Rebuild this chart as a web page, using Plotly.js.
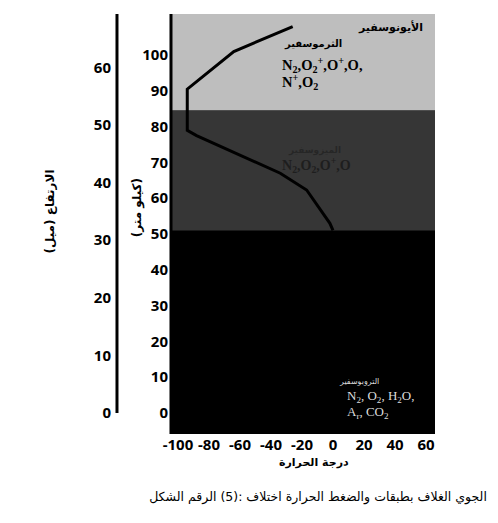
<!DOCTYPE html>
<html>
<head>
<meta charset="utf-8">
<script src="https://cdn.plot.ly/plotly-3.0.1.min.js"></script>
<style>
html,body{margin:0;padding:0;background:#fff;}
#wrap{position:relative;width:498px;height:523px;}
.capword{position:absolute;top:488px;font-family:'DejaVu Sans',sans-serif;font-size:12.5px;color:#000;
  white-space:nowrap;line-height:18px;}
</style>
</head>
<body>
<div id="wrap">
<div id="chart" style="width:498px;height:523px;"></div>
</div>
<script>
// Temperature profile (°C) vs altitude (km)
const temperature = [-26, -64, -94, -94, -88, -34, -17, -2, 0];
const altitudeKm  = [108, 101, 90.5, 79, 77.5, 67, 62.3, 53, 51];

// Layer boundaries (km): troposphere+stratosphere / mesosphere / thermosphere
const layerBottom = [-5.9, 51, 84.6];
const layerTop    = [51, 84.6, 111.5];
const layerColor  = ['#000000', '#363636', '#bebebe'];

// Axes ticks
const kmTicks = [0, 10, 20, 30, 40, 50, 60, 70, 80, 90, 100];
const mileTicks = [0, 10, 20, 30, 40, 50, 60];
const xTickVals = [-100, -80, -60, -40, -20, 0, 20, 40, 60];
const xTickText = ['-100', '-80', '-60', '-40', '-20', '0', '20', '40', '60'];

const captionText = 'الشكل الرقم (5): اختلاف الحرارة والضغط بطبقات الغلاف الجوي';

const KM_PER_MILE = 1.609;
const kmRange = [-5.9, 111.5];
const mileRange = [kmRange[0] / KM_PER_MILE, kmRange[1] / KM_PER_MILE];

const arabic = 'DejaVu Sans';
const tickFont = {family: 'Open Sans', size: 15, color: '#000', weight: 'bold'};
const MILE_AXIS_POS = 0.0507;

const shapes = layerBottom.map((b, i) => ({
  type: 'rect', xref: 'x domain', yref: 'y', x0: 0, x1: 1, y0: b, y1: layerTop[i],
  fillcolor: layerColor[i], line: {width: 0}, layer: 'below'
}));
// miles axis line from 0 upwards
shapes.push({type: 'line', xref: 'paper', yref: 'y2', x0: MILE_AXIS_POS, x1: MILE_AXIS_POS,
  y0: 0, y1: mileRange[1], line: {color: '#000', width: 3}});
// left km axis line
shapes.push({type: 'line', xref: 'x domain', yref: 'paper', x0: 0, x1: 0, y0: 0, y1: 1,
  line: {color: '#000', width: 3}});

const annotations = [
  {x: 59.4, y: 107.8, xanchor: 'right', text: 'الأيونوسفير', font: {family: arabic, size: 11, color: '#000', weight: 'bold'}},
  {x: -33, y: 103.0, xanchor: 'left', text: 'الثرموسفير', font: {family: arabic, size: 10, color: '#000', weight: 'bold'}},
  {x: -34, y: 97.2, xanchor: 'left', text: 'N<sub>2</sub>,O<sub>2</sub><sup>+</sup>,O<sup>+</sup>,O,', font: {family: 'Liberation Serif', size: 14.5, color: '#000', weight: 'bold'}},
  {x: -34, y: 92.4, xanchor: 'left', text: 'N<sup>+</sup>,O<sub>2</sub>', font: {family: 'Liberation Serif', size: 14.5, color: '#000', weight: 'bold'}},
  {x: -30, y: 73.3, xanchor: 'left', text: 'الميزوسفير', font: {family: arabic, size: 9, color: '#262626', weight: 'bold'}},
  {x: -34, y: 69.3, xanchor: 'left', text: 'N<sub>2</sub>,O<sub>2</sub>,O<sup>+</sup>,O', font: {family: 'Liberation Serif', size: 14, color: '#1e1e1e', weight: 'bold'}},
  {x: 2.6, y: 8.8, xanchor: 'left', text: 'التروبوسفير', font: {family: arabic, size: 8, color: '#d8d8d8'}},
  {x: 7.7, y: 4.7, xanchor: 'left', text: 'N<sub>2</sub>, O<sub>2</sub>, H<sub>2</sub>O,', font: {family: 'Liberation Serif', size: 13, color: '#dcdcdc'}},
  {x: 7.7, y: 0.2, xanchor: 'left', text: 'A<sub>r</sub>, CO<sub>2</sub>', font: {family: 'Liberation Serif', size: 13, color: '#dcdcdc'}},
  // axis titles
  {xref: 'paper', yref: 'paper', x: 0.1104, y: 0.54, xanchor: 'center', textangle: -90, text: '(كيلو متر)', font: {family: arabic, size: 12, color: '#000', weight: 'bold'}},
  {xref: 'paper', yref: 'paper', x: -0.149, y: 0.53, xanchor: 'center', textangle: -90, text: 'الارتفاع (ميل)', font: {family: arabic, size: 12, color: '#000', weight: 'bold'}},
  {xref: 'paper', yref: 'paper', x: 0.6388, y: -0.069, xanchor: 'center', text: 'درجة الحرارة', font: {family: arabic, size: 11, color: '#000', weight: 'bold'}}
].map(a => Object.assign({showarrow: false, xref: 'x', yref: 'y', yanchor: 'middle'}, a));

const data = [
  {x: temperature, y: altitudeKm, type: 'scatter', mode: 'lines',
   line: {color: '#000', width: 3}, hoverinfo: 'skip', showlegend: false},
  {x: [null], y: [null], yaxis: 'y2', type: 'scatter', showlegend: false, hoverinfo: 'skip'}
];

const layout = {
  width: 498, height: 523,
  margin: {l: 100, r: 63, t: 14, b: 89},
  paper_bgcolor: '#fff', plot_bgcolor: '#000',
  showlegend: false,
  xaxis: {domain: [0.2119, 1], range: [-104.5, 65.8], tickvals: xTickVals, ticktext: xTickText, tickfont: tickFont,
    showgrid: false, zeroline: false, showline: false, ticks: ''},
  yaxis: {range: kmRange, tickvals: kmTicks, tickfont: tickFont, showgrid: false, zeroline: false,
    showline: false, ticks: '', ticklabelstandoff: 2},
  yaxis2: {range: mileRange, overlaying: 'y', side: 'left', anchor: 'free', position: MILE_AXIS_POS,
    tickvals: mileTicks, tickfont: tickFont, showgrid: false, zeroline: false, showline: false,
    ticks: '', ticklabelstandoff: 6},
  shapes: shapes,
  annotations: annotations
};

Plotly.newPlot('chart', data, layout, {staticPlot: true}).then(() => {
  // caption: words placed one after another from left to right, as printed in the figure
  const wrap = document.getElementById('wrap');
  const words = captionText.split(' ');
  const spans = words.map(w => {
    const s = document.createElement('span');
    s.className = 'capword';
    s.textContent = w;
    s.style.left = '0px';
    wrap.appendChild(s);
    return s;
  });
  const gap = 4;
  const widths = spans.map(s => s.getBoundingClientRect().width);
  const total = widths.reduce((a, b) => a + b, 0) + gap * (words.length - 1);
  let x = 318 - total / 2;
  spans.forEach((s, i) => { s.style.left = x + 'px'; x += widths[i] + gap; });
});
</script>
</body>
</html>
